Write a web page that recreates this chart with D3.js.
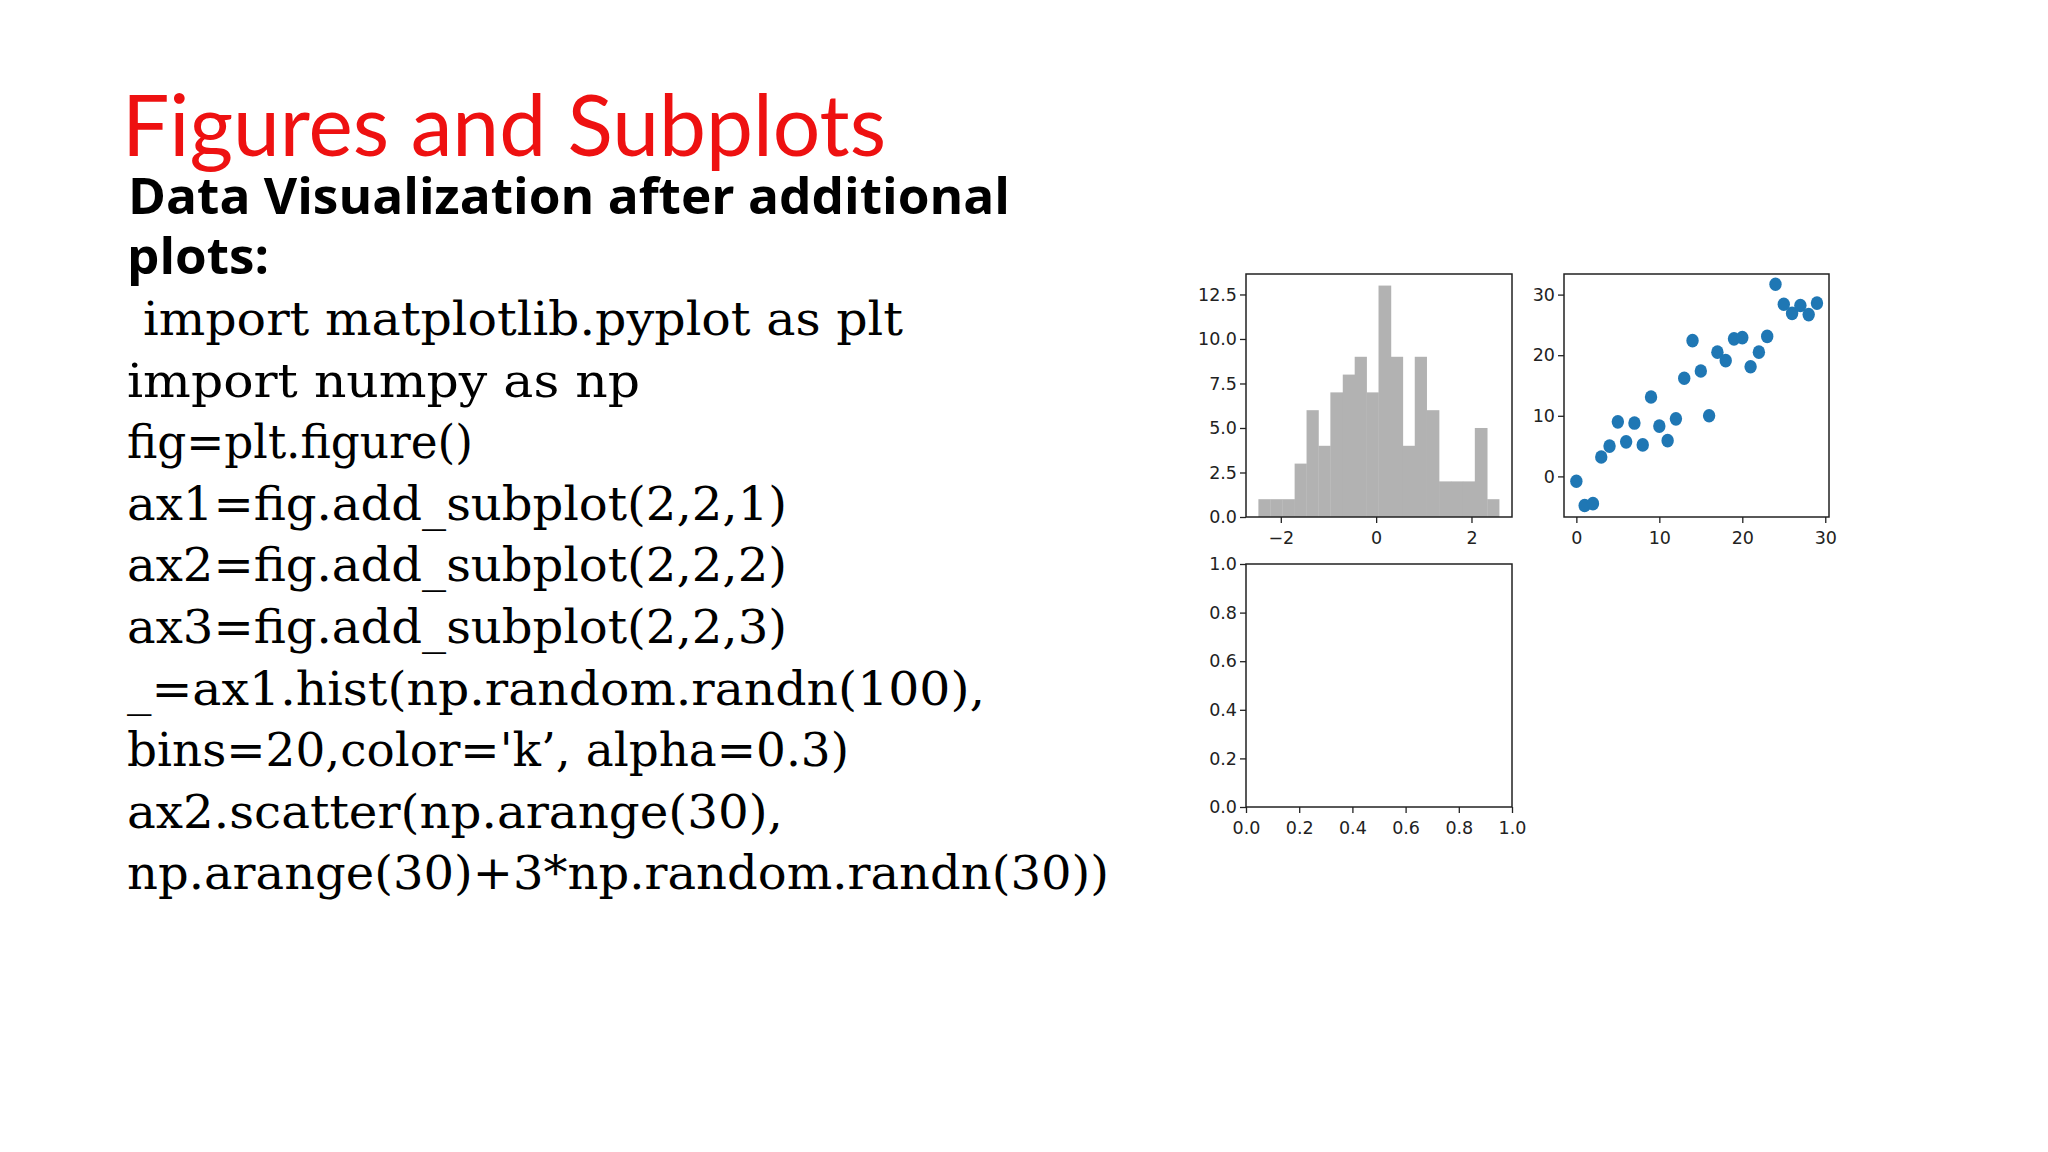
<!DOCTYPE html>
<html>
<head>
<meta charset="utf-8">
<script src="https://cdn.jsdelivr.net/npm/d3@7"></script>
<style>body{margin:0;background:#fff}</style>
</head>
<body>
<div class="canvas"></div>
<script>
// data
const histEdges = [-2.47,-2.22,-1.97,-1.71,-1.46,-1.21,-0.96,-0.70,-0.45,-0.20,0.05,0.31,0.56,0.81,1.06,1.32,1.57,1.82,2.07,2.33,2.58];
const histCounts = [1,1,1,3,6,4,7,8,9,7,13,9,4,9,6,2,2,2,5,1];
const scatterX = d3.range(30);
const scatterY = [-0.8,-4.8,-4.5,3.2,5.0,9.0,5.7,8.8,5.2,13.1,8.3,5.9,9.5,16.2,22.4,17.4,10.0,20.5,19.1,22.7,22.9,18.1,20.5,23.1,31.7,28.4,26.9,28.2,26.7,28.6];
const histYTicks = [0,2.5,5,7.5,10,12.5];
const histXTicks = [-2,0,2];
const scatTicks = [0,10,20,30];
const emptyTicks = [0,0.2,0.4,0.6,0.8,1.0];
const codeLines = [
  " import matplotlib.pyplot as plt",
  "import numpy as np",
  "fig=plt.figure()",
  "ax1=fig.add_subplot(2,2,1)",
  "ax2=fig.add_subplot(2,2,2)",
  "ax3=fig.add_subplot(2,2,3)",
  "_=ax1.hist(np.random.randn(100),",
  "bins=20,color='k\u2019, alpha=0.3)",
  "ax2.scatter(np.arange(30),",
  "np.arange(30)+3*np.random.randn(30))"
];
const codeWidths = [776,513,346,660,660,660,858,722,656,982];

const svg = d3.select(".canvas").append("svg")
  .attr("width", 2048).attr("height", 1152);

// slide text
svg.append("text").attr("x", 122).attr("y", 156)
  .attr("font-family", "Lato, 'Open Sans', sans-serif").attr("font-size", 86)
  .attr("fill", "#ee1111").attr("textLength", 764).attr("lengthAdjust", "spacingAndGlyphs")
  .text("Figures and Subplots");
svg.append("text").attr("x", 128).attr("y", 214)
  .attr("font-family", "'Open Sans', sans-serif").attr("font-weight", "bold").attr("font-size", 51)
  .attr("textLength", 882).attr("lengthAdjust", "spacingAndGlyphs")
  .text("Data Visualization after additional");
svg.append("text").attr("x", 127).attr("y", 274)
  .attr("font-family", "'Open Sans', sans-serif").attr("font-weight", "bold").attr("font-size", 51)
  .attr("textLength", 142).attr("lengthAdjust", "spacingAndGlyphs")
  .text("plots:");
svg.selectAll(".code").data(codeLines).join("text")
  .attr("x", (d, i) => i === 0 ? 143 : 127)
  .attr("y", (d, i) => 335 + i * 61.6)
  .attr("font-family", "'DejaVu Serif', 'Liberation Serif', serif").attr("font-size", 46)
  .attr("textLength", (d, i) => i === 0 ? codeWidths[i] - 16 : codeWidths[i])
  .attr("lengthAdjust", "spacingAndGlyphs")
  .text(d => d.trim());

function panel(x0, x1, y0, y1, xd, yd, xt, yt, fmtX, fmtY) {
  const x = d3.scaleLinear().domain(xd).range([x0, x1]);
  const y = d3.scaleLinear().domain(yd).range([y1, y0]);
  const g = svg.append("g");
  const ax = g.append("g").attr("transform", `translate(0,${y1})`)
    .call(d3.axisBottom(x).tickValues(xt).tickFormat(fmtX).tickSize(6).tickSizeOuter(0));
  const ay = g.append("g").attr("transform", `translate(${x0},0)`)
    .call(d3.axisLeft(y).tickValues(yt).tickFormat(fmtY).tickSize(6).tickSizeOuter(0));
  [ax, ay].forEach(a => {
    a.select(".domain").remove();
    a.selectAll("line").attr("stroke", "#222").attr("stroke-width", 1.3);
    a.selectAll("text").attr("font-family", "'DejaVu Sans', sans-serif")
      .attr("font-size", 17.5).attr("fill", "#222");
  });
  ax.selectAll("text").attr("dy", "1.05em");
  return {x, y, g};
}
function frame(x0, x1, y0, y1) {
  svg.append("rect").attr("x", x0).attr("y", y0).attr("width", x1 - x0).attr("height", y1 - y0)
    .attr("fill", "none").attr("stroke", "#222").attr("stroke-width", 1.5);
}
const minus = d => d3.format("")(d).replace("-", "\u2212");

// histogram
const h = panel(1246, 1512, 274, 517, [-2.73, 2.85], [0, 13.65], histXTicks, histYTicks,
  minus, d3.format(".1f"));
h.g.selectAll(".bar").data(histCounts).join("rect")
  .attr("x", (d, i) => h.x(histEdges[i]))
  .attr("width", (d, i) => h.x(histEdges[i + 1]) - h.x(histEdges[i]) + 0.3)
  .attr("y", d => h.y(d)).attr("height", d => h.y(0) - h.y(d))
  .attr("fill", "#b2b2b2");
frame(1246, 1512, 274, 517);

// scatter
const s = panel(1564, 1829, 274, 517, [-1.49, 30.45], [-6.7, 33.4], scatTicks, scatTicks,
  d3.format("d"), d3.format("d"));
s.g.selectAll(".pt").data(scatterY).join("ellipse")
  .attr("cx", (d, i) => s.x(scatterX[i])).attr("cy", d => s.y(d))
  .attr("rx", 6.2).attr("ry", 6.8).attr("fill", "#1f77b4");
frame(1564, 1829, 274, 517);

// empty axes
panel(1246, 1512, 564, 807, [0, 1], [0, 1], emptyTicks, emptyTicks, d3.format(".1f"), d3.format(".1f"));
frame(1246, 1512, 564, 807);
</script>
</body>
</html>
